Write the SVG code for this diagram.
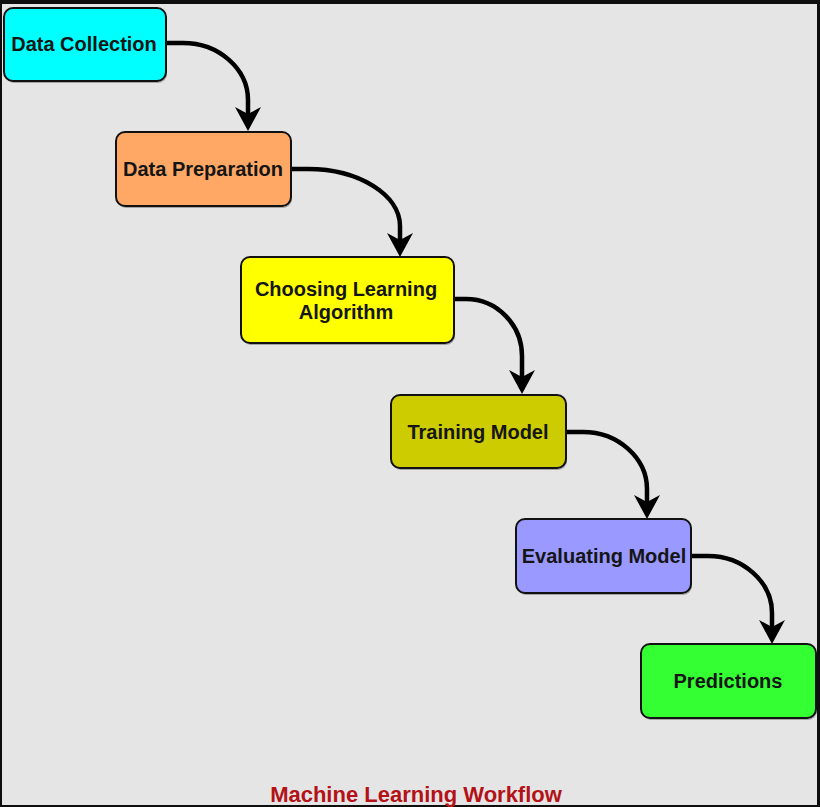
<svg xmlns="http://www.w3.org/2000/svg" width="820" height="807" viewBox="0 0 820 807">
<style>
.node rect.box{stroke:#111;stroke-width:2}
.node rect.sh{fill:#555;opacity:0.45}
.node text{font-family:"Liberation Sans",Arial,sans-serif;font-weight:bold;font-size:20px;fill:#151515;text-anchor:middle}
.edge{fill:none;stroke:#000;stroke-width:4.5}
</style>
<defs>
<marker id="arr" markerWidth="24" markerHeight="26" refX="8" refY="13" orient="auto" markerUnits="userSpaceOnUse" viewBox="0 0 24 26">
<path d="M0,0 L24,13 L0,26 L7,13 Z" fill="#000"/>
</marker>
</defs>
<rect x="0" y="0" width="820" height="807" fill="#0e0e0e"/>
<rect x="2" y="4" width="815" height="801" fill="#e5e5e5"/>
<g id="edges">
<path class="edge" d="M166,43 L183,43 C219,43 248,69 248,100 L248,115" marker-end="url(#arr)"/>
<path class="edge" d="M291,169 L308,169 C359,169 400,195 400,226 L400,241" marker-end="url(#arr)"/>
<path class="edge" d="M454,299 L466,299 C497,299 522,325 522,356 L522,378" marker-end="url(#arr)"/>
<path class="edge" d="M566,432 L583,432 C618,432 647,458 647,489 L647,503" marker-end="url(#arr)"/>
<path class="edge" d="M691,556 L708,556 C743,556 772,582 772,613 L772,628" marker-end="url(#arr)"/>
</g>
<g id="n1" class="node"><rect class="sh" x="5" y="10" width="162" height="73" rx="9"/><rect class="box" x="4" y="8" width="162" height="73" rx="9" fill="#00ffff"/><text x="84" y="51">Data Collection</text></g>
<g id="n2" class="node"><rect class="sh" x="117" y="134" width="175" height="74" rx="9"/><rect class="box" x="116" y="132" width="175" height="74" rx="9" fill="#ffa866"/><text x="203" y="176">Data Preparation</text></g>
<g id="n3" class="node"><rect class="sh" x="242" y="259" width="213" height="86" rx="9"/><rect class="box" x="241" y="257" width="213" height="86" rx="9" fill="#ffff00"/><text x="346" y="296">Choosing Learning</text><text x="346" y="319">Algorithm</text></g>
<g id="n4" class="node"><rect class="sh" x="392" y="397" width="175" height="73" rx="9"/><rect class="box" x="391" y="395" width="175" height="73" rx="9" fill="#cccc00"/><text x="478" y="439">Training Model</text></g>
<g id="n5" class="node"><rect class="sh" x="517" y="521" width="175" height="74" rx="9"/><rect class="box" x="516" y="519" width="175" height="74" rx="9" fill="#9999ff"/><text x="604" y="563">Evaluating Model</text></g>
<g id="n6" class="node"><rect class="sh" x="642" y="646" width="175" height="74" rx="9"/><rect class="box" x="641" y="644" width="175" height="74" rx="9" fill="#33ff33"/><text x="728" y="688">Predictions</text></g>
<text x="416" y="802" font-family="'Liberation Sans',Arial,sans-serif" font-weight="bold" font-size="22" fill="#b31217" text-anchor="middle">Machine Learning Workflow</text>
</svg>
